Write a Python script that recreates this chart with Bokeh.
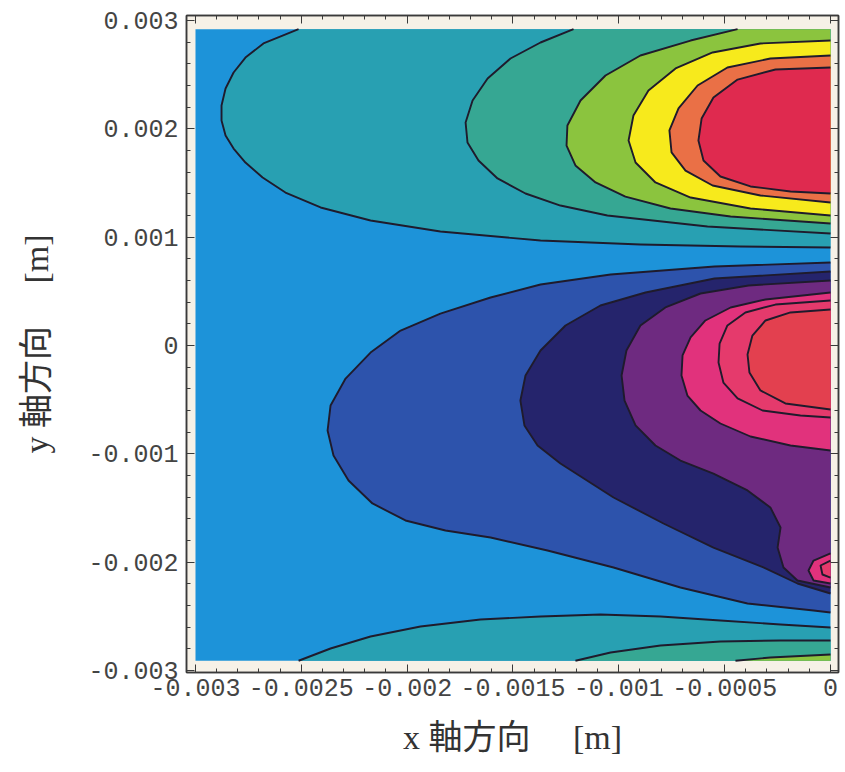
import numpy as np
from bokeh.plotting import figure
from bokeh.models import Range1d, LinearAxis, FixedTicker, ColumnDataSource
from bokeh.embed import file_html
from bokeh.resources import INLINE

MM = 1e-3  # all contour coordinates below are in millimetres

# extent of the computed field (mm)
FIELD_X = [-3.0, 0.0]
FIELD_Y = [-2.91, 2.92]

# axis ticks
X_TICKS = [-0.003, -0.0025, -0.002, -0.0015, -0.001, -0.0005, 0.0]
X_TICK_LABELS = ["-0.003", "-0.0025", "-0.002", "-0.0015", "-0.001", "-0.0005", "0"]
Y_TICKS = [-0.003, -0.002, -0.001, 0.0, 0.001, 0.002, 0.003]
Y_TICK_LABELS = ["-0.003", "-0.002", "-0.001", "0", "0.001", "0.002", "0.003"]

# level colours
C_BASE = "#1d93d9"
C_TEAL = "#28a0b2"
C_TEAL2 = "#36a793"
C_GREEN = "#8bc43e"
C_YELLOW = "#f7ea1c"
C_ORANGE = "#ea7046"
C_RED = "#df2a4f"
C_BLUE = "#2d53ac"
C_NAVY = "#25246c"
C_PURPLE = "#6e2a80"
C_PINK = "#e1327c"
C_PINK2 = "#e53a6c"
C_RED2 = "#e3404f"

# upper lobe (peak near y = 2 mm)
T1_X = [-2.513, -2.679, -2.764, -2.820, -2.858, -2.877, -2.877, -2.858, -2.820, -2.764, -2.683, -2.575,
        -2.409, -2.173, -1.843, -1.370, -0.898, -0.425, 0.0]
T1_Y = [2.92, 2.788, 2.658, 2.520, 2.372, 2.215, 2.077, 1.938, 1.818, 1.689, 1.551, 1.412,
        1.274, 1.154, 1.052, 0.969, 0.932, 0.914, 0.905]
T2_X = [-1.214, -1.370, -1.512, -1.620, -1.691, -1.724, -1.715, -1.663, -1.573, -1.441, -1.276, -1.054, -0.581, 0.0]
T2_Y = [2.92, 2.797, 2.649, 2.465, 2.262, 2.059, 1.874, 1.708, 1.542, 1.403, 1.292, 1.200, 1.098, 1.034]
T3_X = [-0.439, -0.661, -0.898, -1.063, -1.181, -1.243, -1.247, -1.205, -1.110, -0.969, -0.756, -0.472, 0.0]
T3_Y = [2.92, 2.815, 2.677, 2.492, 2.262, 2.031, 1.846, 1.662, 1.505, 1.375, 1.265, 1.191, 1.126]
T4_X = [0.0, -0.331, -0.557, -0.732, -0.860, -0.931, -0.954, -0.921, -0.827, -0.661, -0.378, 0.0]
T4_Y = [2.815, 2.788, 2.705, 2.557, 2.354, 2.123, 1.892, 1.689, 1.505, 1.366, 1.265, 1.200]
T5_X = [0.0, -0.284, -0.487, -0.628, -0.718, -0.761, -0.751, -0.685, -0.557, -0.331, 0.0]
T5_Y = [2.677, 2.649, 2.566, 2.400, 2.188, 1.985, 1.782, 1.615, 1.477, 1.385, 1.320]
T6_X = [0.0, -0.260, -0.439, -0.553, -0.609, -0.624, -0.600, -0.520, -0.378, -0.189, 0.0]
T6_Y = [2.566, 2.548, 2.455, 2.289, 2.095, 1.892, 1.708, 1.560, 1.468, 1.422, 1.403]

# middle lobe (peak near y = 0)
L1_X = [0.0, -0.548, -1.039, -1.370, -1.606, -1.843, -2.031, -2.173, -2.291, -2.362, -2.376, -2.348, -2.277,
        -2.164, -2.008, -1.819, -1.606, -1.337, -1.025, -0.709, -0.392, -0.080, 0.0]
L1_Y = [0.766, 0.729, 0.655, 0.563, 0.443, 0.295, 0.138, -0.065, -0.305, -0.554, -0.785, -1.015, -1.246,
        -1.458, -1.615, -1.708, -1.772, -1.892, -2.049, -2.234, -2.382, -2.446, -2.465]
L2_X = [0.0, -0.548, -0.874, -1.087, -1.252, -1.370, -1.441, -1.465, -1.446, -1.384, -1.276, -1.025, -0.789,
        -0.553, -0.317, -0.156, 0.0]
L2_Y = [0.683, 0.618, 0.489, 0.369, 0.185, -0.046, -0.277, -0.508, -0.738, -0.923, -1.089, -1.403, -1.643,
        -1.865, -2.049, -2.197, -2.289]
L3_X = [0.0, -0.387, -0.614, -0.780, -0.898, -0.964, -0.987, -0.973, -0.921, -0.827, -0.709, -0.553, -0.392,
        -0.284, -0.236, -0.250, -0.222, -0.156, 0.0]
L3_Y = [0.600, 0.554, 0.480, 0.351, 0.185, -0.046, -0.277, -0.508, -0.738, -0.923, -1.062, -1.182, -1.338,
        -1.495, -1.680, -1.865, -2.049, -2.169, -2.234]
L4_X = [0.0, -0.307, -0.472, -0.591, -0.661, -0.699, -0.704, -0.676, -0.614, -0.520, -0.378, -0.189, 0.0]
L4_Y = [0.489, 0.425, 0.351, 0.231, 0.074, -0.092, -0.277, -0.462, -0.600, -0.720, -0.840, -0.923, -0.969]
L5_X = [0.0, -0.260, -0.402, -0.487, -0.524, -0.529, -0.506, -0.439, -0.321, -0.142, 0.0]
L5_Y = [0.415, 0.378, 0.305, 0.185, 0.018, -0.157, -0.342, -0.489, -0.600, -0.646, -0.665]
L6_X = [0.0, -0.189, -0.307, -0.369, -0.392, -0.383, -0.331, -0.213, 0.0]
L6_Y = [0.332, 0.305, 0.231, 0.092, -0.083, -0.249, -0.415, -0.535, -0.591]
S4_X = [0.0, -0.080, -0.104, -0.080, 0.0]
S4_Y = [-1.920, -1.985, -2.077, -2.169, -2.197]
S5_X = [0.0, -0.047, -0.038, 0.0]
S5_Y = [-1.985, -2.031, -2.114, -2.142]

# lower lobe (peak below y = -3 mm)
B1_X = [-2.513, -2.362, -2.173, -1.937, -1.654, -1.370, -1.087, -0.803, -0.520, -0.236, 0.0]
B1_Y = [-2.91, -2.797, -2.686, -2.594, -2.529, -2.502, -2.483, -2.502, -2.539, -2.575, -2.603]
B2_X = [-1.205, -1.039, -0.803, -0.520, -0.236, 0.0]
B2_Y = [-2.91, -2.834, -2.769, -2.732, -2.723, -2.723]
B3_X = [-0.449, -0.284, 0.0]
B3_Y = [-2.91, -2.880, -2.852]

# (x, y, fill, which field edge closes the polygon)
REGIONS = [
    (T1_X, T1_Y, C_TEAL, "top"),
    (T2_X, T2_Y, C_TEAL2, "top"),
    (T3_X, T3_Y, C_GREEN, "top"),
    (T4_X, T4_Y, C_YELLOW, None),
    (T5_X, T5_Y, C_ORANGE, None),
    (T6_X, T6_Y, C_RED, None),
    (L1_X, L1_Y, C_BLUE, None),
    (L2_X, L2_Y, C_NAVY, None),
    (L3_X, L3_Y, C_PURPLE, None),
    (L4_X, L4_Y, C_PINK, None),
    (L5_X, L5_Y, C_PINK2, None),
    (L6_X, L6_Y, C_RED2, None),
    (S4_X, S4_Y, C_PINK, None),
    (S5_X, S5_Y, C_PINK2, None),
    (B1_X, B1_Y, C_TEAL, "bottom"),
    (B2_X, B2_Y, C_TEAL2, "bottom"),
    (B3_X, B3_Y, C_GREEN, "bottom"),
]

patch_xs, patch_ys, patch_colors = [], [], []
line_xs, line_ys = [], []
for xs, ys, color, edge in REGIONS:
    px, py = list(xs), list(ys)
    if edge == "top":
        px.append(FIELD_X[1]); py.append(FIELD_Y[1])
    elif edge == "bottom":
        px.append(FIELD_X[1]); py.append(FIELD_Y[0])
    patch_xs.append(np.array(px) * MM)
    patch_ys.append(np.array(py) * MM)
    patch_colors.append(color)
    line_xs.append(np.array(xs) * MM)
    line_ys.append(np.array(ys) * MM)

FRAME = "#3a3a3a"

p = figure(width=845, height=772,
           x_range=Range1d(-3.0425 * MM, 0.0378 * MM),
           y_range=Range1d(-3.0185 * MM, 3.0462 * MM),
           x_axis_type=None, y_axis_type=None,
           output_backend="svg", toolbar_location=None,
           min_border_left=186, min_border_right=7,
           min_border_top=15, min_border_bottom=100)
p.background_fill_color = "#f6f1e7"
p.border_fill_color = "white"
p.outline_line_color = FRAME
p.outline_line_width = 1.5

# base level
p.quad(left=FIELD_X[0] * MM, right=FIELD_X[1] * MM,
       bottom=FIELD_Y[0] * MM, top=FIELD_Y[1] * MM,
       fill_color=C_BASE, line_color=None)

src = ColumnDataSource(dict(xs=patch_xs, ys=patch_ys, color=patch_colors))
p.patches(xs="xs", ys="ys", fill_color="color", line_color=None, source=src)
p.multi_line(xs=line_xs, ys=line_ys, line_color="#1f1b2c", line_width=1.9,
             line_join="round")

x_minor = list(np.round(np.arange(-0.003, 0.00001, 0.0001), 6))
y_minor = list(np.round(np.arange(-0.003, 0.00301, 0.0002), 6))

LABEL_FONT = "'Liberation Serif', 'Noto Sans CJK JP'"
TICK_FONT = "'Liberation Mono'"


def style_axis(ax, show):
    ax.axis_line_color = FRAME
    ax.axis_line_width = 1.5
    ax.major_tick_line_color = FRAME
    ax.minor_tick_line_color = FRAME
    ax.major_tick_in = 8
    ax.major_tick_out = 0
    ax.minor_tick_in = 4
    ax.minor_tick_out = 0
    if show:
        ax.major_label_text_font = TICK_FONT
        ax.major_label_text_font_size = "25px"
        ax.major_label_text_color = "#444444"
        ax.axis_label_text_font = LABEL_FONT
        ax.axis_label_text_font_size = "34px"
        ax.axis_label_text_font_style = "normal"
        ax.axis_label_text_color = "#333333"
    else:
        ax.major_label_text_font_size = "0px"
        ax.major_label_standoff = 0


xb = LinearAxis(ticker=FixedTicker(ticks=X_TICKS, minor_ticks=x_minor),
                axis_label="x 軸方向\u3000 [m]")
xb.major_label_overrides = dict(zip(X_TICKS, X_TICK_LABELS))
style_axis(xb, True)
xb.major_label_standoff = 6
xb.axis_label_standoff = 20
p.add_layout(xb, "below")

yl = LinearAxis(ticker=FixedTicker(ticks=Y_TICKS, minor_ticks=y_minor),
                axis_label="y 軸方向\u3000 [m]")
yl.major_label_overrides = dict(zip(Y_TICKS, Y_TICK_LABELS))
style_axis(yl, True)
yl.major_label_standoff = 8
yl.axis_label_standoff = 30
p.add_layout(yl, "left")

xt = LinearAxis(ticker=FixedTicker(ticks=X_TICKS, minor_ticks=x_minor))
xt.major_label_overrides = {t: "" for t in X_TICKS}
style_axis(xt, False)
p.add_layout(xt, "above")

yr = LinearAxis(ticker=FixedTicker(ticks=Y_TICKS, minor_ticks=y_minor))
yr.major_label_overrides = {t: "" for t in Y_TICKS}
style_axis(yr, False)
p.add_layout(yr, "right")

open("out.html", "w").write(file_html(p, INLINE))
